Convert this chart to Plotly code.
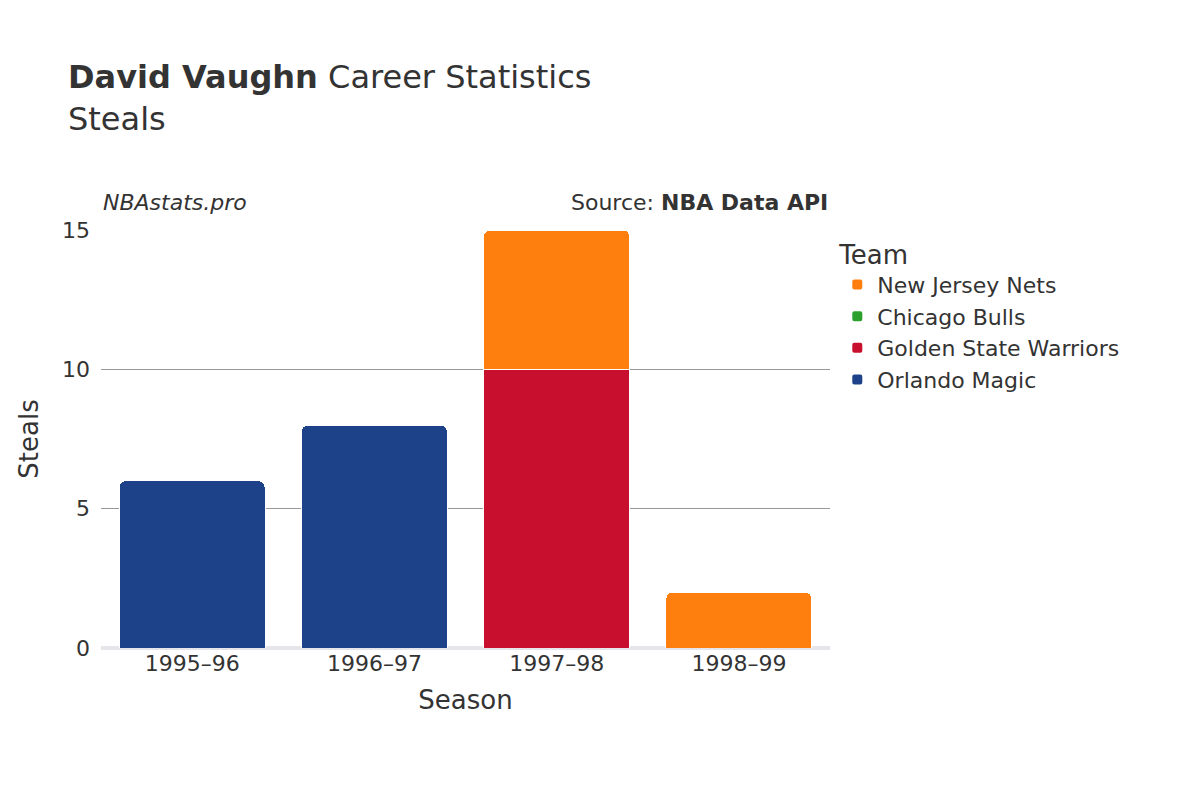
import plotly.graph_objects as go

seasons = ["1995–96", "1996–97", "1997–98", "1998–99"]
teams = ["Orlando Magic", "Golden State Warriors", "Chicago Bulls", "New Jersey Nets"]
colors = ["#1d428a", "#c8102e", "#2ca02c", "#ff7f0e"]
steals = {
    "Orlando Magic": [6, 8, None, None],
    "Golden State Warriors": [None, None, 10, None],
    "Chicago Bulls": [None, None, 0, None],
    "New Jersey Nets": [None, None, 5, 2],
}

fig = go.Figure()
for team, color in zip(teams, colors):
    fig.add_trace(go.Bar(x=seasons, y=steals[team], name=team, marker_color=color,
                         marker_line=dict(color="white", width=1)))

fig.update_layout(
    barmode="stack",
    barcornerradius=6,
    bargap=0.2,
    width=1200, height=800,
    template="plotly_white",
    font=dict(family="DejaVu Sans", size=22, color="#333"),
    title=dict(text="<b>David Vaughn</b> Career Statistics<br>Steals",
               x=0.05, y=0.9, xanchor="left", yanchor="top", font=dict(size=32)),
    margin=dict(l=93, r=378, t=222, b=160),
    legend=dict(title=dict(text="Team", font=dict(size=26)), x=1.01, y=1.0,
                yanchor="top", font=dict(size=22), itemsizing="constant"),
    xaxis=dict(title=dict(text="Season", font=dict(size=26)), tickfont=dict(size=22)),
    yaxis=dict(title=dict(text="Steals", font=dict(size=26)), range=[0, 15],
               tickvals=[0, 5, 10, 15], gridcolor="#999", tickfont=dict(size=22),
               zeroline=True, zerolinecolor="#e5e5ea", zerolinewidth=4),
    annotations=[
        dict(text="<i>NBAstats.pro</i>", xref="paper", yref="paper", x=0.0, y=1.03,
             xanchor="left", yanchor="bottom", showarrow=False, font=dict(size=22)),
        dict(text="Source: <b>NBA Data API</b>", xref="paper", yref="paper", x=1.0, y=1.03,
             xanchor="right", yanchor="bottom", showarrow=False, font=dict(size=22)),
    ],
)
fig.update_yaxes(ticks="", ticklabelstandoff=10)
fig.write_html("out.html")
